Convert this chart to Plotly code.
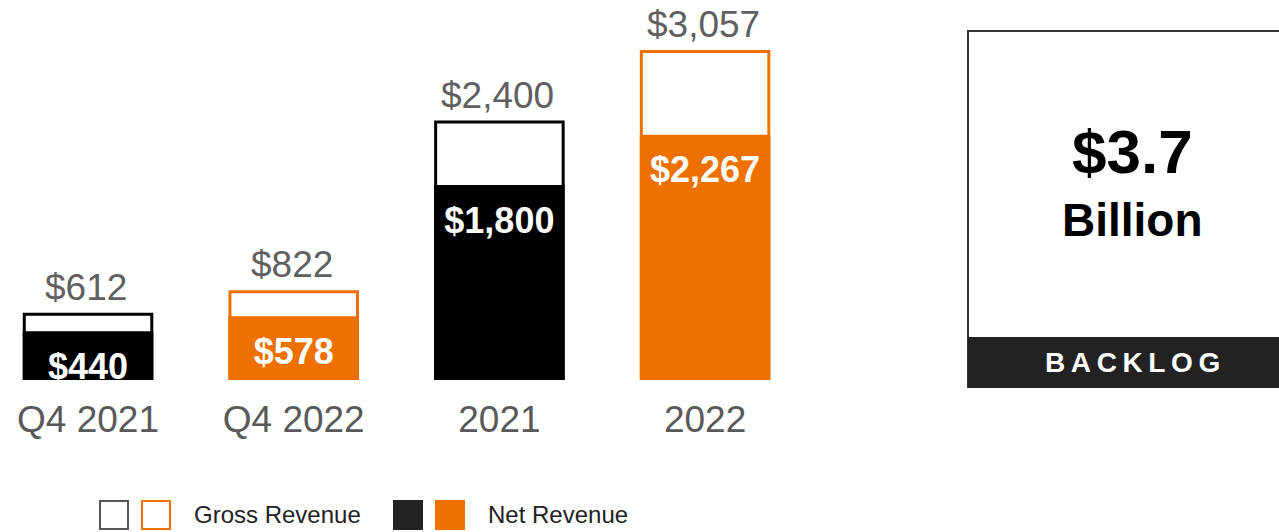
import plotly.graph_objects as go

# ---- data ----
categories = ["Q4 2021", "Q4 2022", "2021", "2022"]
gross_revenue = [612, 822, 2400, 3057]
net_revenue = [440, 578, 1800, 2267]
gross_labels = ["$612", "$822", "$2,400", "$3,057"]
net_labels = ["$440", "$578", "$1,800", "$2,267"]
backlog_value = "$3.7"
backlog_unit = "Billion"
backlog_title = "BACKLOG"
legend_labels = ["Gross Revenue", "Net Revenue"]

# ---- style ----
W, H = 1279, 532
FONT = "Arial, 'Liberation Sans', sans-serif"
BLACK = "#000000"
ORANGE = "#EE7100"
GREY = "#606060"
bar_colors = [BLACK, ORANGE, BLACK, ORANGE]

PLOT_BOTTOM = 380          # px of baseline
PLOT_RIGHT = 840           # px of plot area right edge
Y_MAX = 3535
X_RANGE = [-0.428, 3.656]
PX_PER_UNIT = PLOT_BOTTOM / Y_MAX

xs = list(range(len(categories)))

fig = go.Figure()

# gross (outlined) bars
fig.add_trace(go.Bar(
    x=xs, y=gross_revenue, width=0.62,
    marker=dict(color="white", line=dict(color=bar_colors, width=3)),
    hoverinfo="skip", showlegend=False,
))
# net (filled) bars
fig.add_trace(go.Bar(
    x=xs, y=net_revenue, width=0.62,
    marker=dict(color=bar_colors, line=dict(color=bar_colors, width=3)),
    hoverinfo="skip", showlegend=False,
))
# net labels inside bars (clipped by plot area)
fig.add_trace(go.Scatter(
    x=xs, y=[v - 37 / PX_PER_UNIT for v in net_revenue],
    mode="text", text=net_labels, textposition="middle center",
    textfont=dict(family=FONT, size=36, color="white", weight="bold"),
    cliponaxis=True, hoverinfo="skip", showlegend=False,
))

annotations = []
for i, (g, lab) in enumerate(zip(gross_revenue, gross_labels)):
    annotations.append(dict(
        x=i, y=g, xref="x", yref="y", text=lab, showarrow=False,
        xshift=-2, yshift=27, font=dict(family=FONT, size=37, color=GREY),
    ))

def py(px):
    return 1 - px / PLOT_BOTTOM

def pxx(px):
    return px / W

def note(x, y, text, size, color, anchor="center"):
    annotations.append(dict(x=pxx(x), y=py(y), xref="paper", yref="paper",
                            xanchor=anchor, yanchor="middle", text=text,
                            showarrow=False,
                            font=dict(family=FONT, size=size, color=color,
                                      weight="bold" if color in ("black", "white") else "normal")))

shapes = []
# backlog box
shapes.append(dict(type="rect", xref="paper", yref="paper",
                   x0=pxx(968), x1=pxx(1300), y0=py(387), y1=py(31),
                   line=dict(color="#333333", width=2), fillcolor="white", layer="below"))
shapes.append(dict(type="rect", xref="paper", yref="paper",
                   x0=pxx(968), x1=pxx(1300), y0=py(388), y1=py(337),
                   line=dict(width=0), fillcolor="#222222"))
note(1132, 151, backlog_value, 62, "black")
note(1132, 220, backlog_unit, 46, "black")
note(1132, 362, "\u2009".join(backlog_title), 28, "white")

# legend swatches
def square(x0, fill, line_color):
    shapes.append(dict(type="rect", xref="paper", yref="paper",
                       x0=pxx(x0), x1=pxx(x0 + 28), y0=py(529), y1=py(501),
                       fillcolor=fill, line=dict(color=line_color, width=2)))

square(100, "white", "#555555")
square(142, "white", ORANGE)
square(394, "#222222", "#222222")
square(436, ORANGE, ORANGE)
note(192, 514, legend_labels[0], 24, "#222222", anchor="left")
note(486, 514, legend_labels[1], 24, "#222222", anchor="left")

fig.update_layout(
    width=W, height=H,
    margin=dict(l=0, r=0, t=0, b=H - PLOT_BOTTOM, pad=0),
    paper_bgcolor="white", plot_bgcolor="white",
    barmode="overlay", showlegend=False,
    xaxis=dict(domain=[0, PLOT_RIGHT / W], range=X_RANGE,
               tickvals=xs, ticktext=categories,
               tickfont=dict(family=FONT, size=37, color="#595959"),
               showgrid=False, zeroline=False, showline=False, ticks="",
               ticklabelstandoff=14),
    yaxis=dict(range=[0, Y_MAX], visible=False, showgrid=False, zeroline=False),
    shapes=shapes, annotations=annotations,
)

fig.write_html("out.html", config={"displayModeBar": False},
               post_script="document.body.style.margin='0';")
